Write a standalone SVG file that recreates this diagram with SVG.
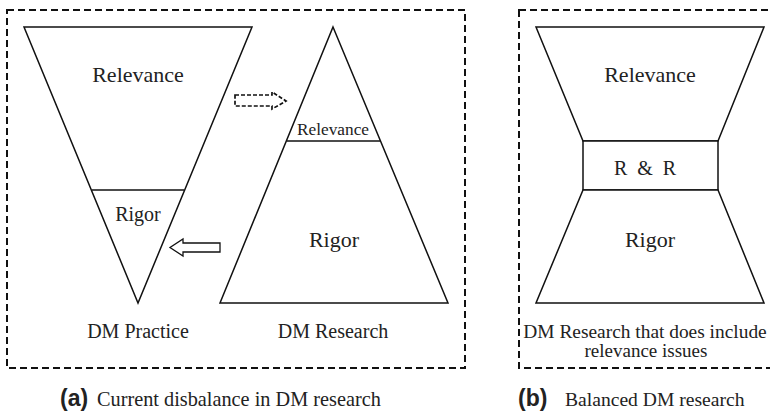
<svg xmlns="http://www.w3.org/2000/svg" width="770" height="418" viewBox="0 0 770 418">
  <style>
    .frame { fill: none; stroke: #111; stroke-width: 2; stroke-dasharray: 7 4; }
    .shape { fill: #fff; stroke: #111; stroke-width: 1.5; stroke-linejoin: miter; }
  </style>
  <rect width="770" height="418" fill="#fff"/>

  <!-- panel frames -->
  <rect class="frame" x="7" y="10" width="458" height="358"/>
  <rect class="frame" x="519" y="10" width="256" height="358"/>

  <!-- (a) DM practice: inverted triangle -->
  <g id="dm-practice">
    <polygon class="shape" points="24,27 252,27 138,303"/>
    <line class="shape" x1="92" y1="190" x2="184" y2="190"/>
    <text font-family="Liberation Serif" font-size="22" fill="#222" text-anchor="middle" x="138" y="82">Relevance</text>
    <text font-family="Liberation Serif" font-size="20" fill="#222" text-anchor="middle" x="138" y="221">Rigor</text>
    <text font-family="Liberation Serif" font-size="20" fill="#222" text-anchor="middle" x="138" y="338">DM Practice</text>
  </g>

  <!-- (a) DM research: upright triangle -->
  <g id="dm-research">
    <polygon class="shape" points="333,27 448,303 220,303"/>
    <line class="shape" x1="287" y1="141" x2="380" y2="141"/>
    <text font-family="Liberation Serif" font-size="17.3" fill="#222" text-anchor="middle" x="333" y="135">Relevance</text>
    <text font-family="Liberation Serif" font-size="22" fill="#222" text-anchor="middle" x="334" y="247">Rigor</text>
    <text font-family="Liberation Serif" font-size="20" fill="#222" text-anchor="middle" x="333" y="338">DM Research</text>
  </g>

  <!-- (b) balanced research: hourglass -->
  <g id="balanced-research">
    <polygon class="shape" points="536,27 764,27 718,141 583,141"/>
    <rect class="shape" x="583" y="141" width="135" height="49"/>
    <polygon class="shape" points="583,190 718,190 764,303 536,303"/>
    <text font-family="Liberation Serif" font-size="22" fill="#222" text-anchor="middle" x="650" y="82">Relevance</text>
    <text font-family="Liberation Serif" font-size="20" fill="#222" text-anchor="middle" word-spacing="5" x="645" y="175">R &amp; R</text>
    <text font-family="Liberation Serif" font-size="22" fill="#222" text-anchor="middle" x="650" y="247">Rigor</text>
    <text font-family="Liberation Serif" font-size="19.4" fill="#222" text-anchor="middle" x="645" y="338">DM Research that does include</text>
    <text font-family="Liberation Serif" font-size="19" fill="#222" text-anchor="middle" x="646" y="357">relevance issues</text>
  </g>

  <!-- captions -->
  <g id="caption-a">
    <text font-family="Liberation Sans" font-weight="bold" font-size="23" fill="#222" x="60" y="406">(a)</text>
    <text font-family="Liberation Serif" font-size="20.3" fill="#222" x="97" y="406">Current disbalance in DM research</text>
  </g>
  <g id="caption-b">
    <text font-family="Liberation Sans" font-weight="bold" font-size="23" fill="#222" x="518" y="406">(b)</text>
    <text font-family="Liberation Serif" font-size="19.6" fill="#222" x="565" y="406">Balanced DM research</text>
  </g>

  <!-- transfer arrows between practice and research -->
  <g id="connectors">
    <polygon fill="#fff" stroke="#111" stroke-width="1.7" stroke-dasharray="4 2" points="235,95 272,95 272,92 286,101 272,109 272,106 235,106"/>
    <polygon fill="#fff" stroke="#111" stroke-width="1.3" points="220,243 183,243 183,239 170,247.5 183,256 183,252 220,252"/>
  </g>
</svg>
